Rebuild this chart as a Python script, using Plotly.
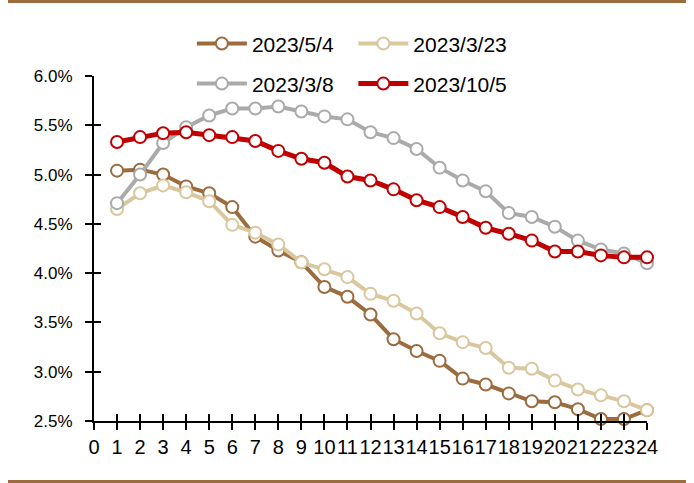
import plotly.graph_objects as go

# Maturity buckets (months) and curves, in percent
months = list(range(1, 25))

curve_0504 = [5.04, 5.05, 5.00, 4.88, 4.81, 4.67, 4.37, 4.23, 4.11, 3.86, 3.76, 3.58,
              3.33, 3.21, 3.11, 2.93, 2.87, 2.78, 2.70, 2.69, 2.62, 2.52, 2.52, 2.61]
curve_0323 = [4.65, 4.81, 4.89, 4.82, 4.73, 4.49, 4.41, 4.29, 4.11, 4.04, 3.96, 3.79,
              3.72, 3.59, 3.39, 3.30, 3.24, 3.04, 3.03, 2.91, 2.82, 2.76, 2.70, 2.61]
curve_0308 = [4.71, 5.00, 5.32, 5.48, 5.60, 5.67, 5.67, 5.69, 5.64, 5.59, 5.56, 5.43,
              5.37, 5.26, 5.07, 4.94, 4.83, 4.61, 4.57, 4.47, 4.33, 4.24, 4.20, 4.10]
curve_1005 = [5.33, 5.38, 5.42, 5.43, 5.40, 5.38, 5.34, 5.24, 5.16, 5.12, 4.98, 4.94,
              4.85, 4.74, 4.67, 4.57, 4.46, 4.40, 4.33, 4.22, 4.22, 4.18, 4.16, 4.16]

series_names = ["2023/5/4", "2023/3/23", "2023/3/8", "2023/10/5"]
series_values = [curve_0504, curve_0323, curve_0308, curve_1005]
series_colors = ["#9C6B3E", "#D9C79E", "#AAAAAA", "#C00000"]
series_widths = [4, 4, 4, 5]

# one legend box per series, laid out as a 2x2 grid above the plot
legend_ids = ["legend", "legend2", "legend3", "legend4"]
legend_pos = [(0.177, 1.093), (0.469, 1.093), (0.177, 0.977), (0.469, 0.977)]

y_ticks = [2.5, 3.0, 3.5, 4.0, 4.5, 5.0, 5.5, 6.0]
y_tick_text = [f"{v:.1f}%" for v in y_ticks]
x_ticks = list(range(0, 25))

FONT = "Liberation Sans, Arial, sans-serif"

fig = go.Figure()
for name, vals, color, w, lg in zip(series_names, series_values, series_colors,
                                    series_widths, legend_ids):
    fig.add_trace(go.Scatter(
        x=months, y=vals, name=name, mode="lines+markers",
        line=dict(color=color, width=w),
        marker=dict(symbol="circle", size=12, color="white",
                    line=dict(color=color, width=2)),
        cliponaxis=False, legend=lg,
    ))

axis_common = dict(showgrid=False, zeroline=False, showline=True,
                   linecolor="black", linewidth=2, tickcolor="black",
                   tickwidth=2, ticklen=7)

legend_layout = {}
for lg, (lx, ly) in zip(legend_ids, legend_pos):
    legend_layout[lg] = dict(orientation="h", x=lx, xanchor="left", y=ly,
                             yanchor="middle", font=dict(family=FONT, size=21),
                             bgcolor="rgba(0,0,0,0)", itemwidth=50)

fig.update_layout(
    width=694, height=483,
    margin=dict(l=94, r=47, t=76, b=62),
    paper_bgcolor="white", plot_bgcolor="white",
    font=dict(family=FONT, size=17, color="black"),
    xaxis=dict(range=[0, 24], tickvals=x_ticks, ticks="outside", tickangle=0,
               tickfont=dict(size=20), **axis_common),
    yaxis=dict(range=[2.5, 6.0], tickvals=y_ticks, ticktext=y_tick_text,
               ticks="outside", ticklabelstandoff=9, tickfont=dict(size=17),
               **axis_common),
    # companion axes supply the inner half of the crossing tick marks
    xaxis2=dict(overlaying="x", anchor="y", side="bottom", range=[0, 24],
                tickvals=x_ticks, ticks="inside", showticklabels=False,
                **axis_common),
    yaxis2=dict(overlaying="y", anchor="x", side="left", range=[2.5, 6.0],
                tickvals=y_ticks, ticks="inside", showticklabels=False,
                **axis_common),
    showlegend=True,
    **legend_layout,
)

# dummy trace to activate the companion axes
fig.add_trace(go.Scatter(x=[None], y=[None], xaxis="x2", yaxis="y2",
                         showlegend=False, hoverinfo="skip"))

# decorative rules at top and bottom of the page
rule_color = "#9C6B3E"
for yy in (1.216, -0.1754):
    fig.add_shape(type="line", xref="paper", yref="paper",
                  x0=-0.1555, x1=1.0705, y0=yy, y1=yy,
                  line=dict(color=rule_color, width=3))

fig.write_html("out.html")
